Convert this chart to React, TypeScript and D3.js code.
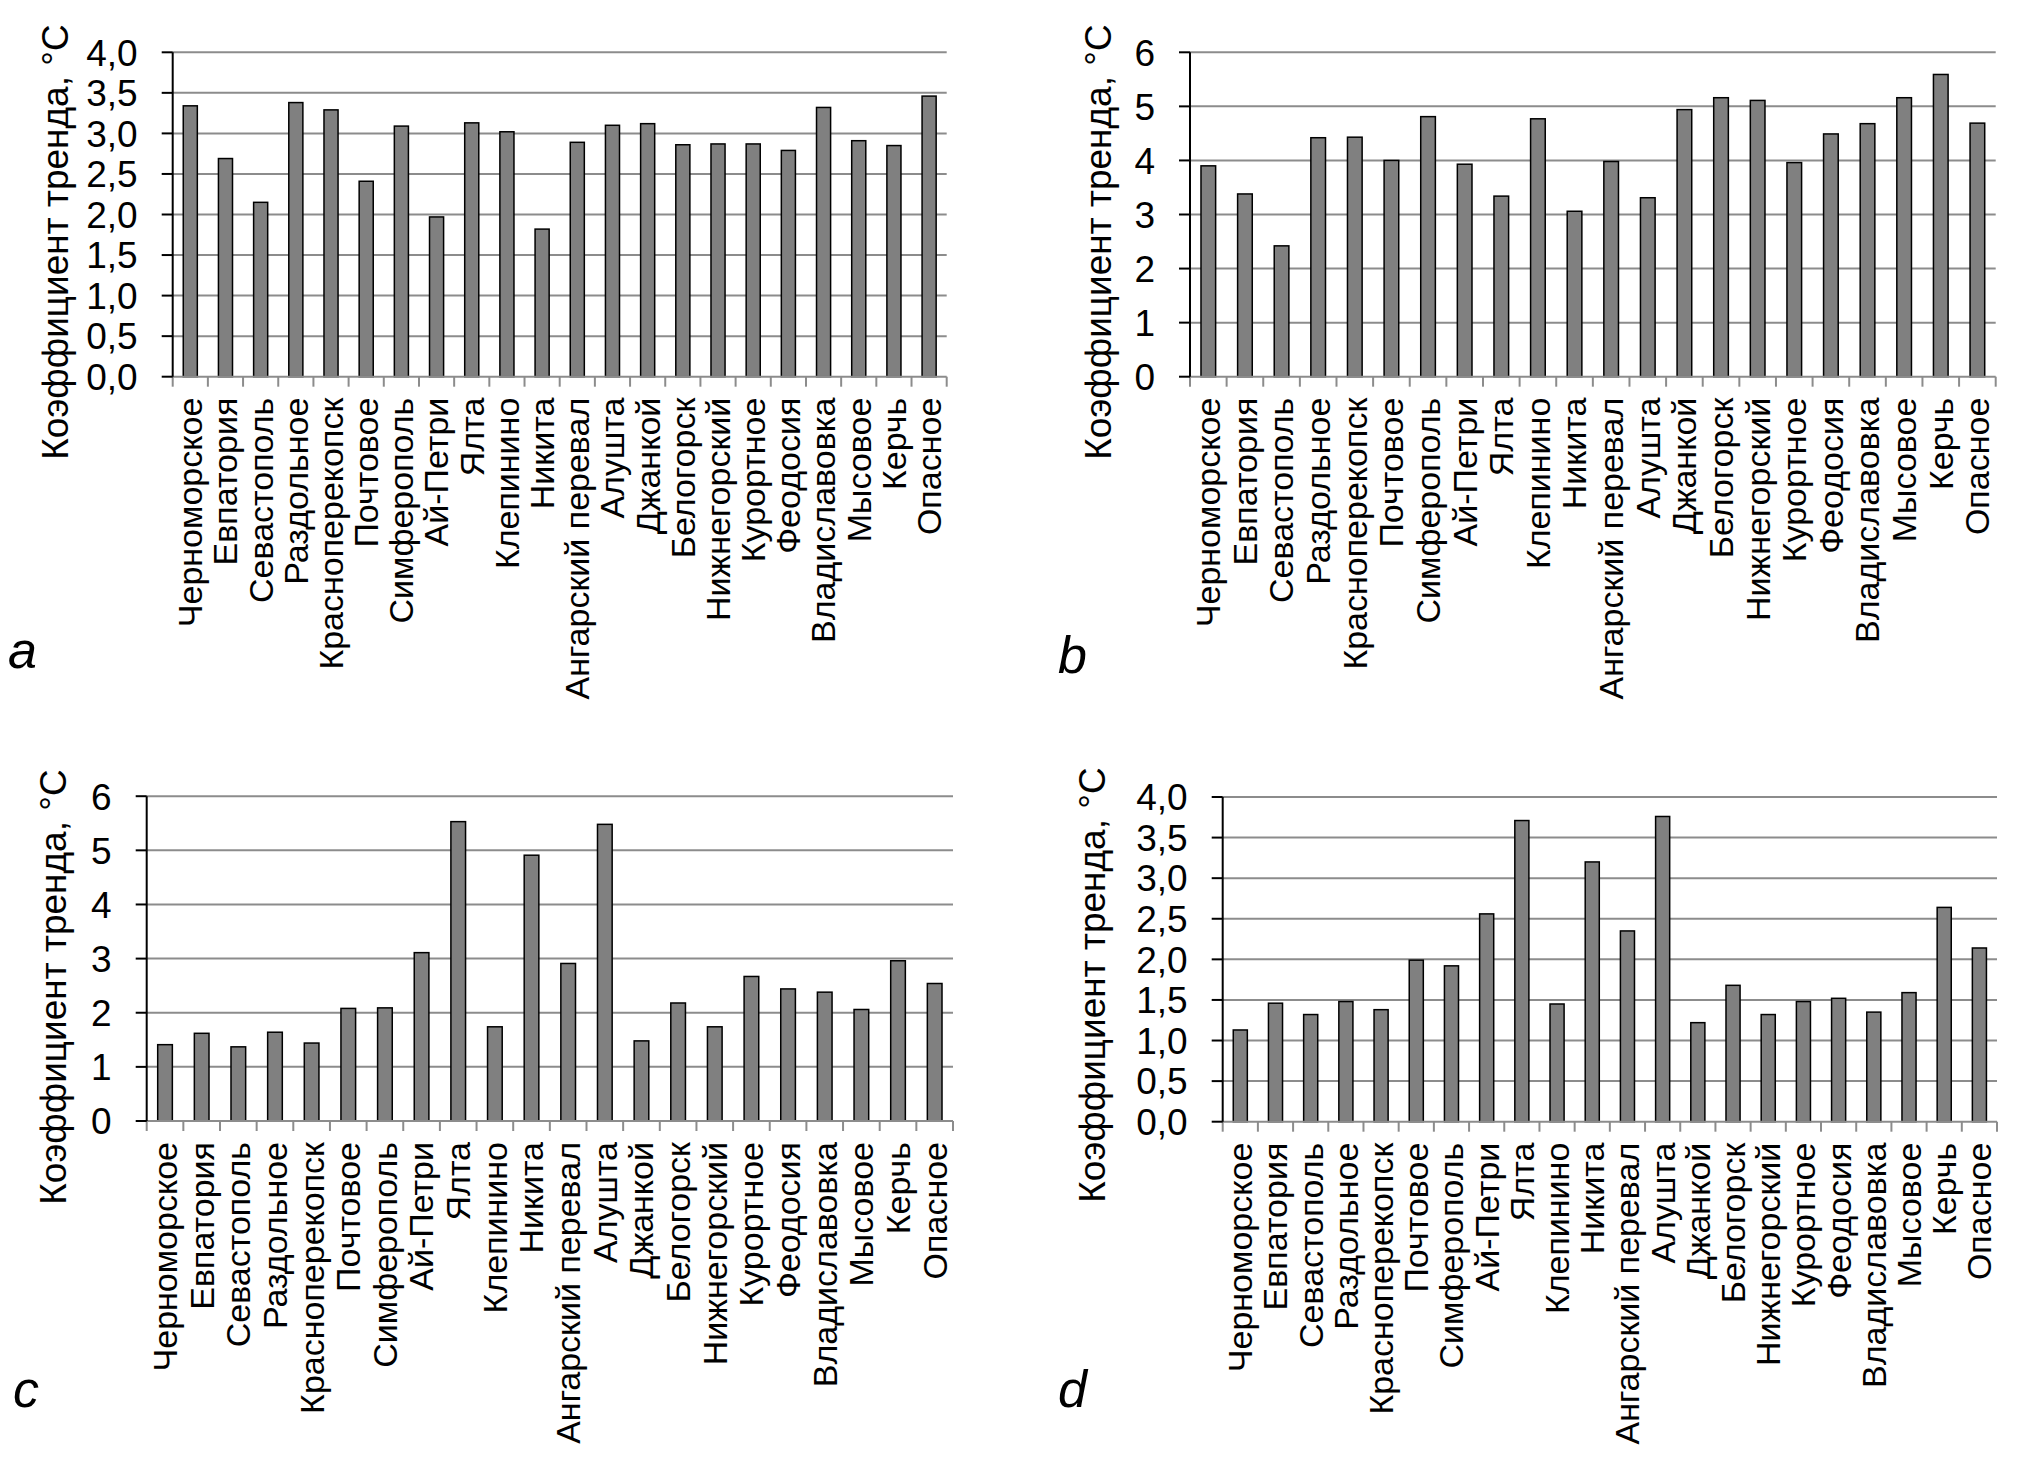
import React from 'react';
import * as d3 from 'd3';

// станции (одинаковые для всех четырёх графиков)
const stations = [
  'Черноморское', 'Евпатория', 'Севастополь', 'Раздольное', 'Красноперекопск',
  'Почтовое', 'Симферополь', 'Ай-Петри', 'Ялта', 'Клепинино', 'Никита',
  'Ангарский перевал', 'Алушта', 'Джанкой', 'Белогорск', 'Нижнегорский',
  'Курортное', 'Феодосия', 'Владиславовка', 'Мысовое', 'Керчь', 'Опасное',
];

const trendA = [3.34, 2.69, 2.15, 3.38, 3.29, 2.41, 3.09, 1.97, 3.13, 3.02, 1.82,
  2.89, 3.10, 3.12, 2.86, 2.87, 2.87, 2.79, 3.32, 2.91, 2.85, 3.46];
const trendB = [3.90, 3.38, 2.42, 4.42, 4.43, 4.00, 4.81, 3.93, 3.34, 4.77, 3.06,
  3.98, 3.31, 4.94, 5.16, 5.11, 3.96, 4.49, 4.68, 5.16, 5.59, 4.69];
const trendC = [1.41, 1.62, 1.37, 1.64, 1.44, 2.08, 2.09, 3.11, 5.53, 1.74, 4.91,
  2.91, 5.48, 1.48, 2.18, 1.74, 2.67, 2.44, 2.38, 2.06, 2.96, 2.54];
const trendD = [1.13, 1.46, 1.32, 1.48, 1.38, 1.99, 1.92, 2.56, 3.71, 1.45, 3.20,
  2.35, 3.76, 1.22, 1.68, 1.32, 1.48, 1.52, 1.35, 1.59, 2.64, 2.14];

const Y_TITLE = 'Коэффициент тренда, °C';

const FONT = '"Liberation Sans", Arial, Helvetica, sans-serif';
const GRID = '#8c8c8c';
const BAR = '#808080';

const ru = d3.formatLocale({ decimal: ',', thousands: ' ', grouping: [3], currency: ['', ''] });
const fmt1 = ru.format('.1f');
const fmt0 = ru.format('d');

interface PanelProps {
  values: number[];
  yMax: number;
  step: number;
  fmt: (n: number) => string;
  left: number;
  right: number;
  top: number;
  bottom: number;
  titleX: number;
  titleY: number;
  letter: string;
  letterX: number;
  letterY: number;
}

const Panel = ({ values, yMax, step, fmt, left, right, top, bottom, titleX, titleY, letter, letterX, letterY }: PanelProps) => {
  const x = d3.scaleBand<string>().domain(stations).range([left, right]).paddingInner(0.6).paddingOuter(0.3);
  const y = d3.scaleLinear().domain([0, yMax]).range([bottom, top]);
  const ticks = d3.range(0, yMax + step / 2, step);
  const half = (x.step() * x.paddingInner()) / 2;
  const bounds = stations.map((s) => (x(s) as number) - half).concat([right]);

  return (
    <g fontFamily={FONT}>
      {/* сетка */}
      {ticks.slice(1).map((t) => (
        <line key={'g' + t} x1={left} x2={right} y1={y(t)} y2={y(t)} stroke={GRID} strokeWidth={2} />
      ))}

      {values.map((v, i) => (
        <rect
          key={stations[i]}
          x={x(stations[i])}
          width={x.bandwidth()}
          y={y(v)}
          height={bottom - y(v)}
          fill={BAR}
          stroke="#000"
          strokeWidth={1.5}
        />
      ))}

      {/* ось x */}
      <line x1={left} x2={right} y1={bottom} y2={bottom} stroke={GRID} strokeWidth={2} />
      {bounds.map((b, i) => (
        <line key={'xt' + i} x1={b} x2={b} y1={bottom} y2={bottom + 10} stroke={GRID} strokeWidth={2} />
      ))}

      {/* ось y */}
      <line x1={left} x2={left} y1={top} y2={bottom} stroke="#000" strokeWidth={2} />
      {ticks.map((t) => (
        <g key={'yt' + t}>
          <line x1={left - 11} x2={left} y1={y(t)} y2={y(t)} stroke="#000" strokeWidth={2} />
          <text x={left - 35} y={y(t)} dy="0.36em" textAnchor="end" fontSize={37} fill="#000">
            {fmt(t)}
          </text>
        </g>
      ))}

      {stations.map((s) => (
        <text
          key={'l' + s}
          transform={`translate(${(x(s) as number) + x.bandwidth() / 2},${bottom + 21}) rotate(-90)`}
          dy="0.35em"
          textAnchor="end"
          fontSize={34}
          fill="#000"
        >
          {s}
        </text>
      ))}

      <text transform={`translate(${titleX},${titleY}) rotate(-90)`} textAnchor="middle" fontSize={37} fill="#000">
        {Y_TITLE}
      </text>

      <text x={letterX} y={letterY} fontSize={52} fontStyle="italic" fill="#000">
        {letter}
      </text>
    </g>
  );
};

const App = () => (
  <div style={{ position: 'absolute', left: 0, top: 0 }}>
    <svg width={2020} height={1467} viewBox="0 0 2020 1467" style={{ display: 'block', background: '#fff' }}>
      <Panel values={trendA} yMax={4} step={0.5} fmt={fmt1}
        left={172.7} right={946.7} top={52.3} bottom={376.7}
        titleX={68} titleY={242} letter="a" letterX={8} letterY={668} />
      <Panel values={trendB} yMax={6} step={1} fmt={fmt0}
        left={1190} right={1995.7} top={52.3} bottom={376.7}
        titleX={1111} titleY={242} letter="b" letterX={1058} letterY={673} />
      <Panel values={trendC} yMax={6} step={1} fmt={fmt0}
        left={146.7} right={953} top={796.2} bottom={1121}
        titleX={66} titleY={987} letter="c" letterX={13} letterY={1407} />
      <Panel values={trendD} yMax={4} step={0.5} fmt={fmt1}
        left={1222.7} right={1997} top={797} bottom={1121.7}
        titleX={1105} titleY={985} letter="d" letterX={1058} letterY={1407} />
    </svg>
  </div>
);

export default App;
